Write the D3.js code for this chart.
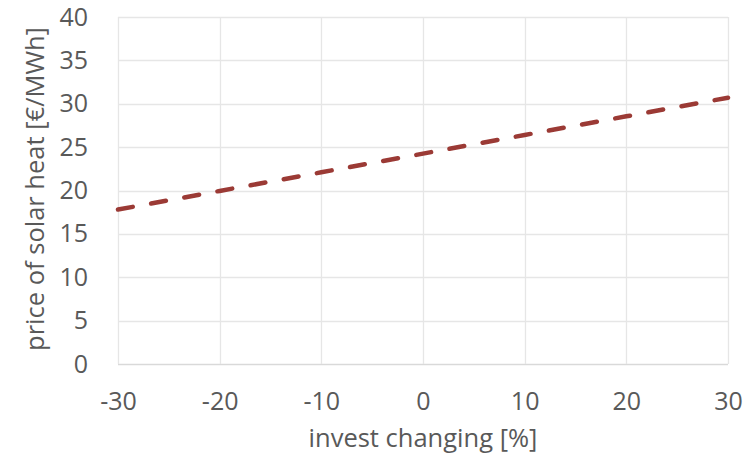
<!DOCTYPE html>
<html><head><meta charset="utf-8">
<script src="https://cdn.jsdelivr.net/npm/d3@7"></script>
<style>body{margin:0;background:#fff;} svg{display:block;}</style>
</head><body>
<svg id="c" width="756" height="455"></svg>
<script>
const xValues = [-30, -20, -10, 0, 10, 20, 30];
const priceValues = [17.8, 19.95, 22.1, 24.25, 26.4, 28.55, 30.7];
const xTicks = [-30, -20, -10, 0, 10, 20, 30];
const yTicks = [0, 5, 10, 15, 20, 25, 30, 35, 40];
const xTitle = "invest changing [%]";
const yTitle = "price of solar heat [€/MWh]";

const svg = d3.select("#c");
const m = {left: 118, right: 728, top: 17, bottom: 364};
const x = d3.scaleLinear().domain([-30, 30]).range([m.left, m.right]);
const y = d3.scaleLinear().domain([0, 40]).range([m.bottom, m.top]);
const font = "'Open Sans', sans-serif";
const grey = "#595959";

// grid
svg.append("g").selectAll("line.h").data(yTicks).join("line")
  .attr("x1", m.left).attr("x2", m.right)
  .attr("y1", d => Math.round(y(d)) + 0.5).attr("y2", d => Math.round(y(d)) + 0.5)
  .attr("stroke", d => d === 0 ? "#d9d9d9" : "#e6e6e6").attr("stroke-width", 1.3);
svg.append("g").selectAll("line.v").data(xTicks).join("line")
  .attr("y1", m.top).attr("y2", m.bottom)
  .attr("x1", d => Math.round(x(d)) + 0.5).attr("x2", d => Math.round(x(d)) + 0.5)
  .attr("stroke", "#e6e6e6").attr("stroke-width", 1.3);

// axes labels via d3 axes
const yAxis = svg.append("g").attr("transform", `translate(${m.left},0)`)
  .call(d3.axisLeft(y).tickValues(yTicks).tickSize(0).tickPadding(30));
const xAxis = svg.append("g").attr("transform", `translate(0,${m.bottom})`)
  .call(d3.axisBottom(x).tickValues(xTicks).tickSize(0).tickPadding(28).tickFormat(d => String(d)));
[yAxis, xAxis].forEach(a => {
  a.select(".domain").remove();
  a.selectAll("text").attr("fill", grey).style("font-family", font).style("font-size", "25px");
});

// line
svg.append("path").datum(xValues.map((v, i) => [v, priceValues[i]]))
  .attr("d", d3.line().x(d => x(d[0])).y(d => y(d[1])))
  .attr("fill", "none").attr("stroke", "#9b3a35").attr("stroke-width", 4.5)
  .attr("stroke-dasharray", "15,18.7").attr("stroke-linecap", "round");

// titles
svg.append("text").attr("x", (m.left + m.right) / 2).attr("y", 447)
  .attr("text-anchor", "middle").attr("fill", grey)
  .style("font-family", font).style("font-size", "25.5px").text(xTitle);
svg.append("text").attr("transform", `translate(44,189) rotate(-90)`)
  .attr("text-anchor", "middle").attr("fill", grey)
  .style("font-family", font).style("font-size", "25.5px").text(yTitle);
</script>
</body></html>
